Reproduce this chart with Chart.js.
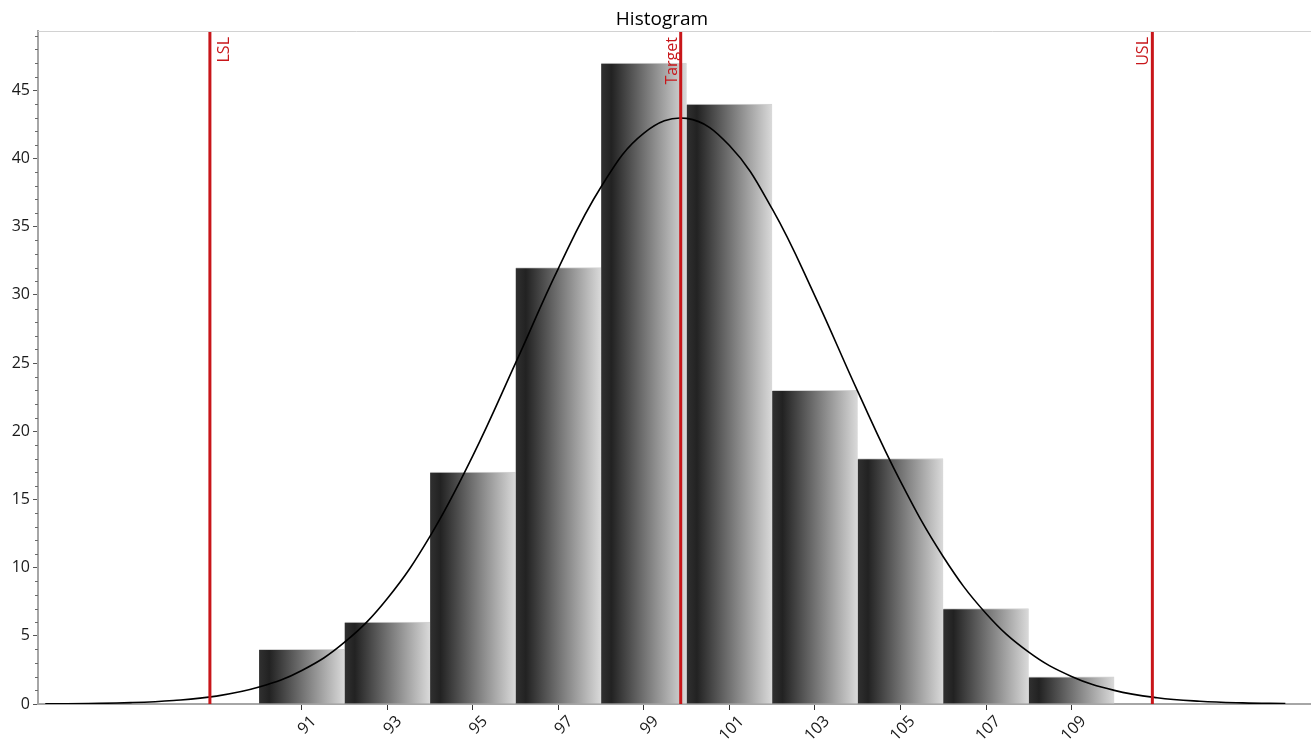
<!DOCTYPE html>
<html>
<head>
<meta charset="utf-8">
<title>Histogram</title>
<script src="https://cdn.jsdelivr.net/npm/chart.js@4.4.1/dist/chart.umd.min.js"></script>
<style>
  html, body { margin: 0; padding: 0; background: #ffffff; }
  #wrap { width: 1311px; height: 745px; }
</style>
</head>
<body>
<div id="wrap"><canvas id="chart" width="1311" height="745"></canvas></div>
<script>
// Histogram bins (centre value and count per bin, bins are 2 units wide)
const binCenters = [91, 93, 95, 97, 99, 101, 103, 105, 107, 109];
const binCounts  = [4, 6, 17, 32, 47, 44, 23, 18, 7, 2];
const binWidth = 2;

// Fitted normal curve, sampled at each unit of the measurement
const curveX = [85, 86, 87, 88, 89, 90, 91, 92, 93, 94, 95, 96, 97, 98, 99,
                100, 101, 102, 103, 104, 105, 106, 107, 108, 109, 110, 111, 112, 113, 114];
const curveY = [0.01, 0.04, 0.10, 0.26, 0.58, 1.24, 2.46, 4.53, 7.74, 12.31, 18.21, 25.01, 31.95, 37.93, 41.86,
                42.94, 40.95, 36.30, 29.91, 22.92, 16.32, 10.80, 6.64, 3.80, 2.02, 1.00, 0.46, 0.20, 0.08, 0.03];

// Specification limits
const limitNames  = ['LSL', 'Target', 'USL'];
const limitValues = [88.85, 99.86, 110.89];

// Tick labels on the measurement axis
const xTickLabels = [91, 93, 95, 97, 99, 101, 103, 105, 107, 109];

const yMax = 49.35;
const FONT = "'Open Sans', 'Noto Sans', 'DejaVu Sans', sans-serif";
const RED = '#c8161a';

function barGradient(ctx) {
  const chart = ctx.chart;
  const xs = chart.scales && chart.scales.x;
  if (!chart.chartArea || !xs || ctx.type !== 'data') return '#777777';
  const c = binCenters[ctx.dataIndex];
  const l = xs.getPixelForValue(c - binWidth / 2);
  const r = xs.getPixelForValue(c + binWidth / 2);
  const g = chart.ctx.createLinearGradient(l, 0, r, 0);
  g.addColorStop(0, '#303030');
  g.addColorStop(0.12, '#222222');
  g.addColorStop(1, '#dadada');
  return g;
}

// Title, frame line, minor ticks and limit labels
const decorations = {
  id: 'decorations',
  afterDraw(chart) {
    const { ctx, chartArea, scales } = chart;
    const xs = scales.x, ys = scales.y;
    ctx.save();
    // top frame line
    ctx.strokeStyle = '#d2d2d2';
    ctx.lineWidth = 1;
    ctx.beginPath();
    ctx.moveTo(chartArea.left, chartArea.top + 0.5);
    ctx.lineTo(chartArea.right, chartArea.top + 0.5);
    ctx.stroke();

    // minor ticks on the count axis
    ctx.strokeStyle = '#6a6a6a';
    ctx.lineWidth = 1;
    for (let v = 1; v < yMax; v++) {
      if (v % 5 === 0) continue;
      const y = Math.round(ys.getPixelForValue(v)) + 0.5;
      ctx.beginPath();
      ctx.moveTo(chartArea.left - 3, y);
      ctx.lineTo(chartArea.left, y);
      ctx.stroke();
    }

    // title
    ctx.fillStyle = '#000000';
    ctx.font = '19px ' + FONT;
    ctx.textAlign = 'center';
    ctx.textBaseline = 'alphabetic';
    ctx.fillText('Histogram', 662, 25);

    // limit labels, written bottom-to-top along each line
    ctx.fillStyle = RED;
    ctx.font = '16px ' + FONT;
    limitNames.forEach((name, i) => {
      const x = xs.getPixelForValue(limitValues[i]);
      const bx = i === 0 ? x + 19 : x - 4;
      ctx.save();
      ctx.translate(bx, chartArea.top + 6);
      ctx.rotate(-Math.PI / 2);
      ctx.textAlign = 'right';
      ctx.textBaseline = 'alphabetic';
      ctx.fillText(name, 0, 0);
      ctx.restore();
    });
    ctx.restore();
  }
};

const limitDatasets = limitValues.map((v, i) => ({
  type: 'line',
  label: limitNames[i],
  data: [{ x: v, y: 0 }, { x: v, y: yMax }],
  borderColor: RED,
  borderWidth: 3,
  pointRadius: 0,
  fill: false,
  order: 0
}));

new Chart(document.getElementById('chart'), {
  data: {
    datasets: [
      {
        type: 'bar',
        label: 'Count',
        data: binCenters.map((c, i) => ({ x: c, y: binCounts[i] })),
        backgroundColor: barGradient,
        borderColor: '#d4d4d4',
        borderWidth: { top: 1, left: 0, right: 0, bottom: 0 },
        borderSkipped: false,
        barPercentage: 1,
        categoryPercentage: 1,
        order: 3
      },
      {
        type: 'line',
        label: 'Normal',
        data: curveX.map((x, i) => ({ x: x, y: curveY[i] })),
        borderColor: '#000000',
        borderWidth: 1.6,
        pointRadius: 0,
        tension: 0.4,
        fill: false,
        order: 1
      },
      ...limitDatasets
    ]
  },
  options: {
    responsive: false,
    animation: false,
    layout: { padding: { top: 31, left: 0, right: 0, bottom: 0 } },
    plugins: {
      legend: { display: false },
      tooltip: { enabled: false },
      title: { display: false }
    },
    scales: {
      x: {
        type: 'linear',
        min: 84.83,
        max: 114.6,
        offset: false,
        afterBuildTicks(scale) {
          scale.ticks = xTickLabels.map(v => ({ value: v }));
        },
        afterFit(scale) { scale.height = 41; },
        border: { display: true, color: '#a6a6a6', width: 2 },
        grid: { display: true, offset: false, drawOnChartArea: false, drawTicks: true, tickLength: 6, tickColor: '#333333', tickWidth: 1 },
        ticks: {
          minRotation: 45,
          maxRotation: 45,
          autoSkip: false,
          padding: 2,
          labelOffset: 12,
          color: '#1a1a1a',
          font: { family: FONT, size: 16 },
          callback: v => String(v)
        }
      },
      y: {
        type: 'linear',
        min: 0,
        max: yMax,
        afterFit(scale) { scale.width = 38; },
        border: { display: true, color: '#a6a6a6', width: 2 },
        grid: { display: true, offset: false, drawOnChartArea: false, drawTicks: true, tickLength: 5, tickColor: '#555555', tickWidth: 1 },
        ticks: {
          stepSize: 5,
          includeBounds: false,
          padding: 3,
          color: '#1a1a1a',
          font: { family: FONT, size: 16 }
        }
      }
    }
  },
  plugins: [decorations]
});
</script>
</body>
</html>
